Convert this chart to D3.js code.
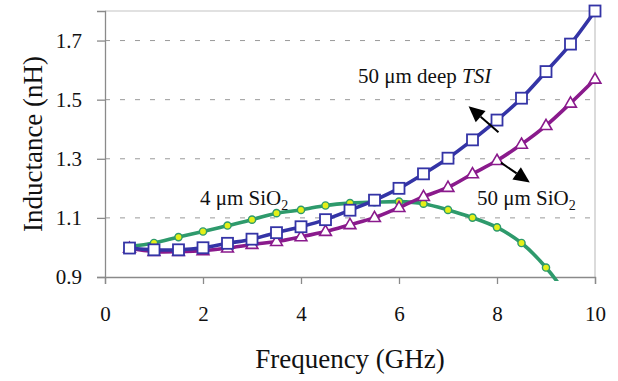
<!DOCTYPE html>
<html>
<head>
<meta charset="utf-8">
<script src="https://cdn.jsdelivr.net/npm/d3@7"></script>
<style>
  html, body { margin: 0; padding: 0; background: #fff; }
  svg { display: block; }
  svg text { font-family: "Liberation Serif", "DejaVu Serif", serif; }
</style>
</head>
<body>
<svg id="chart" width="618" height="381"></svg>
<script>
// Frequency sweep (GHz)
const freq = [0.5, 1, 1.5, 2, 2.5, 3, 3.5, 4, 4.5, 5, 5.5, 6, 6.5, 7, 7.5, 8, 8.5, 9, 9.5, 10];
// Inductance (nH) for each structure
const tsi50 = [0.998, 0.992, 0.992, 0.999, 1.014, 1.028, 1.050, 1.070, 1.094, 1.126, 1.160, 1.200, 1.249, 1.302, 1.364, 1.431, 1.505, 1.595, 1.688, 1.800];
const sio50 = [0.997, 0.986, 0.986, 0.989, 0.998, 1.010, 1.020, 1.036, 1.054, 1.077, 1.101, 1.135, 1.172, 1.203, 1.249, 1.294, 1.349, 1.412, 1.488, 1.569];
const sio4  = [1.003, 1.015, 1.035, 1.054, 1.074, 1.094, 1.116, 1.127, 1.142, 1.150, 1.153, 1.155, 1.148, 1.127, 1.101, 1.068, 1.015, 0.932, 0.820, 0.680];
const xTicks = [0, 2, 4, 6, 8, 10];
const yTicks = [0.9, 1.1, 1.3, 1.5, 1.7];

const serif = "'Liberation Serif', 'DejaVu Serif', serif";
const svg = d3.select("#chart");
const m = { left: 105, right: 595, top: 11, bottom: 277 };

const x = d3.scaleLinear().domain([0, 10]).range([m.left, m.right]);
const y = d3.scaleLinear().domain([0.9, 1.8]).range([m.bottom, m.top]);

// dashed horizontal gridlines
svg.append("g").selectAll("line")
  .data(yTicks.filter(v => v > 0.9))
  .join("line")
  .attr("x1", m.left).attr("x2", m.right)
  .attr("y1", d => y(d)).attr("y2", d => y(d))
  .attr("stroke", "#9a9a9a").attr("stroke-width", 1)
  .attr("stroke-dasharray", "5,10");

// top and right frame
svg.append("path")
  .attr("d", `M${m.left},${m.top}H${m.right}V${m.bottom}`)
  .attr("fill", "none").attr("stroke", "#c4c4c4").attr("stroke-width", 1.2);

// axes
const xAxis = svg.append("g")
  .attr("transform", `translate(0,${m.bottom})`)
  .call(d3.axisBottom(x).tickValues(xTicks).tickSize(7).tickPadding(22).tickFormat(d3.format("d")));
const yAxis = svg.append("g")
  .attr("transform", `translate(${m.left},0)`)
  .call(d3.axisLeft(y).tickValues(yTicks).tickSize(8).tickPadding(15).tickFormat(d3.format(".1f")));
[xAxis, yAxis].forEach(g => {
  g.attr("font-family", serif).attr("font-size", 21);
  g.select(".domain").attr("stroke", "#8a8a8a").attr("stroke-width", 1.3);
  g.selectAll(".tick line").attr("stroke", "#8a8a8a").attr("stroke-width", 1.3);
  g.selectAll("text").attr("fill", "#111");
});

// axis titles
const titles = svg.append("g").attr("font-family", serif).attr("font-size", 27).attr("fill", "#111");
titles.append("text")
  .attr("x", (m.left + m.right) / 2).attr("y", 368)
  .attr("text-anchor", "middle")
  .text("Frequency (GHz)");
titles.append("text")
  .attr("transform", `translate(42,${(m.top + m.bottom) / 2}) rotate(-90)`)
  .attr("text-anchor", "middle")
  .text("Inductance (nH)");

// clip region for the curves
const defs = svg.append("defs");
defs.append("clipPath").attr("id", "plotClip")
  .append("rect")
  .attr("x", m.left - 10).attr("y", m.top - 10)
  .attr("width", m.right - m.left + 20).attr("height", m.bottom - m.top + 14);

const plot = svg.append("g").attr("clip-path", "url(#plotClip)");
const line = d3.line().x(d => x(d[0])).y(d => y(d[1])).curve(d3.curveCatmullRom.alpha(0.5));

const series = [
  { vals: sio4,  color: "#2e9a6c", marker: "circle" },
  { vals: sio50, color: "#8a1a8c", marker: "triangle" },
  { vals: tsi50, color: "#3434a6", marker: "square" }
];

series.forEach(s => {
  const pts = freq.map((f, i) => [f, s.vals[i]]);
  plot.append("path")
    .attr("d", line(pts))
    .attr("fill", "none").attr("stroke", s.color).attr("stroke-width", 3.6)
    .attr("stroke-linejoin", "round");
});

series.forEach(s => {
  const pts = freq.map((f, i) => [f, s.vals[i]]).filter(p => p[1] >= 0.9);
  const g = plot.append("g");
  if (s.marker === "circle") {
    g.selectAll("circle").data(pts).join("circle")
      .attr("cx", d => x(d[0])).attr("cy", d => y(d[1])).attr("r", 3.6)
      .attr("fill", "#e4f018").attr("stroke", s.color).attr("stroke-width", 1.4);
  } else if (s.marker === "square") {
    g.selectAll("rect").data(pts).join("rect")
      .attr("x", d => x(d[0]) - 5.5).attr("y", d => y(d[1]) - 5.5)
      .attr("width", 11).attr("height", 11)
      .attr("fill", "#fff").attr("stroke", s.color).attr("stroke-width", 1.8);
  } else {
    const tri = d3.symbol().type(d3.symbolTriangle).size(60);
    g.selectAll("path").data(pts).join("path")
      .attr("d", tri)
      .attr("transform", d => `translate(${x(d[0])},${y(d[1]) + 0.5})`)
      .attr("fill", "#fff").attr("stroke", s.color).attr("stroke-width", 1.6);
  }
});

// pointer arrows: shaft plus a filled triangular head at the tip
const arrows = [
  { from: [8.03, 1.39], to: [7.42, 1.478] },
  { from: [8.08, 1.287], to: [8.67, 1.22] }
];
const ag = svg.append("g");
arrows.forEach(a => {
  const x1 = x(a.from[0]), y1 = y(a.from[1]), x2 = x(a.to[0]), y2 = y(a.to[1]);
  const ang = Math.atan2(y2 - y1, x2 - x1);
  const L = 16, W = 7.5;
  const bx = x2 - L * Math.cos(ang), by = y2 - L * Math.sin(ang);
  ag.append("line").attr("x1", x1).attr("y1", y1).attr("x2", bx).attr("y2", by)
    .attr("stroke", "#000").attr("stroke-width", 2);
  ag.append("path")
    .attr("d", `M${x2},${y2}L${bx - W * Math.sin(ang)},${by + W * Math.cos(ang)}L${bx + W * Math.sin(ang)},${by - W * Math.cos(ang)}Z`)
    .attr("fill", "#000");
});

// curve labels
const labels = svg.append("g").attr("font-family", serif).attr("font-size", 21).attr("fill", "#111");
const lab1 = labels.append("text").attr("x", 358).attr("y", 83);
lab1.append("tspan").text("50 \u03bcm deep ");
lab1.append("tspan").attr("font-style", "italic").text("TSI");

const lab2 = labels.append("text").attr("x", 477).attr("y", 205);
lab2.append("tspan").text("50 \u03bcm SiO");
lab2.append("tspan").attr("font-size", 14).attr("dy", 5).text("2");

const lab3 = labels.append("text").attr("x", 200).attr("y", 205);
lab3.append("tspan").text("4 \u03bcm SiO");
lab3.append("tspan").attr("font-size", 14).attr("dy", 5).text("2");
</script>
</body>
</html>
